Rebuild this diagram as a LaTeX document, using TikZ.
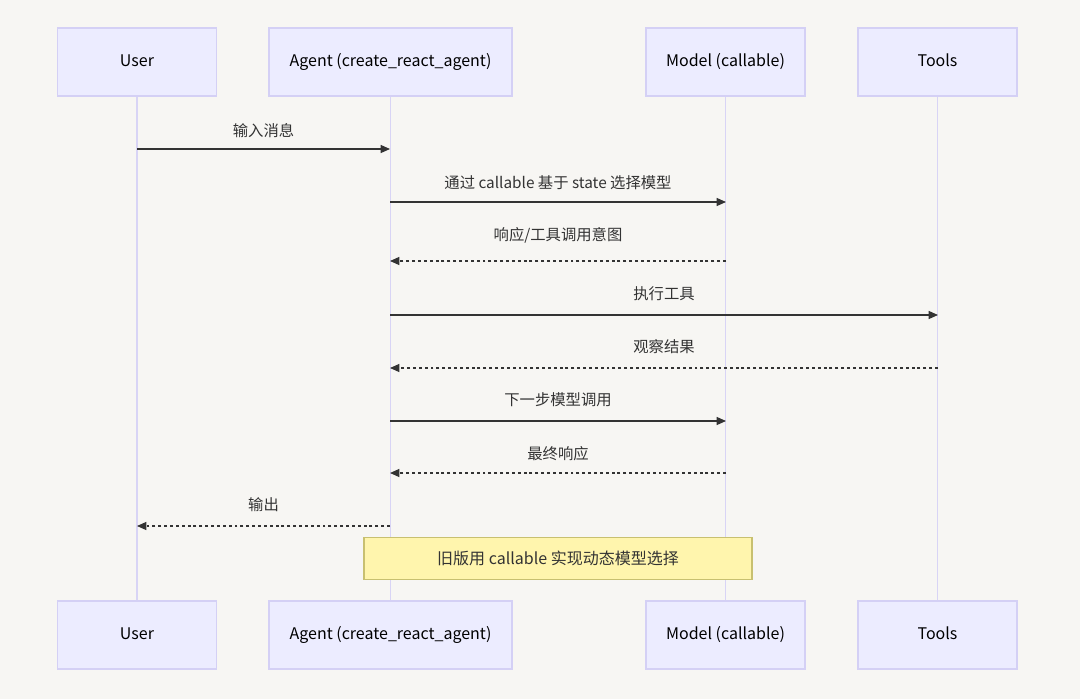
\documentclass[tikz,border=0pt]{standalone}
\usepackage{fontspec}
\setmainfont{Noto Sans CJK SC}
\usetikzlibrary{arrows.meta}
\definecolor{bg}{HTML}{F7F6F3}
\definecolor{actfill}{HTML}{ECECFF}
\definecolor{actline}{HTML}{D4D0F5}
\definecolor{life}{HTML}{D8D4F5}
\definecolor{notefill}{HTML}{FFF5AD}
\definecolor{noteline}{HTML}{C8C070}
\definecolor{ink}{HTML}{333333}
\begin{document}
\begin{tikzpicture}[x=0.75pt,y=-0.75pt,
  actor/.style={draw=actline,fill=actfill,line width=0.8pt,minimum height=51pt,text=black,font=\fontsize{12}{14}\selectfont,inner sep=0pt,text height=9pt,text depth=3pt},
  msg/.style={draw=ink,line width=0.9pt,-{Triangle[length=7pt,width=6pt]}},
  rmsg/.style={msg,dash pattern=on 2.2pt off 2.2pt},
  lbl/.style={font=\fontsize{11.5}{13}\selectfont,text=ink,anchor=south,inner sep=0pt},
  lifel/.style={draw=life,line width=1pt}]
\fill[bg] (0,0) rectangle (1080,699);
\useasboundingbox (0,0) rectangle (1080,699);
\foreach \n/\x/\w/\t in {u/137/159/User,a/390.5/243/Agent (create\_react\_agent),m/725.5/159/Model (callable),t/937.5/159/Tools}{
  \node[actor,minimum width=\w*0.75pt] (\n1) at (\x,62) {\t};
  \node[actor,minimum width=\w*0.75pt] (\n2) at (\x,635) {\t};
  \draw[lifel] (\n1.south) -- (\n2.north);
}
\foreach \n/\x in {u/137,a/390,m/726,t/938}{
 \foreach \i/\y in {1/149,2/202,3/261,4/315,5/368,6/421,7/473,8/526}{
  \coordinate (\n\i) at (\x,\y);}}
\draw[msg] (u1) -- node[lbl,above=8pt]{输入消息} (a1);
\draw[msg] (a2) -- node[lbl,above=9pt]{通过 callable 基于 state 选择模型} (m2);
\draw[rmsg] (m3) -- node[lbl,above=13pt]{响应/工具调用意图} (a3);
\draw[msg] (a4) -- node[lbl,above=10pt]{执行工具} (t4);
\draw[rmsg] (t5) -- node[lbl,above=10pt]{观察结果} (a5);
\draw[msg] (a6) -- node[lbl,above=10pt]{下一步模型调用} (m6);
\draw[rmsg] (m7) -- node[lbl,above=9pt]{最终响应} (a7);
\draw[rmsg] (a8) -- node[lbl,above=10pt]{输出} (u8);
\node[draw=noteline,fill=notefill,line width=0.8pt,minimum width=291pt,minimum height=31pt,font=\fontsize{12}{14}\selectfont,text=ink] (note) at (558,558.5) {旧版用 callable 实现动态模型选择};
\end{tikzpicture}
\end{document}
